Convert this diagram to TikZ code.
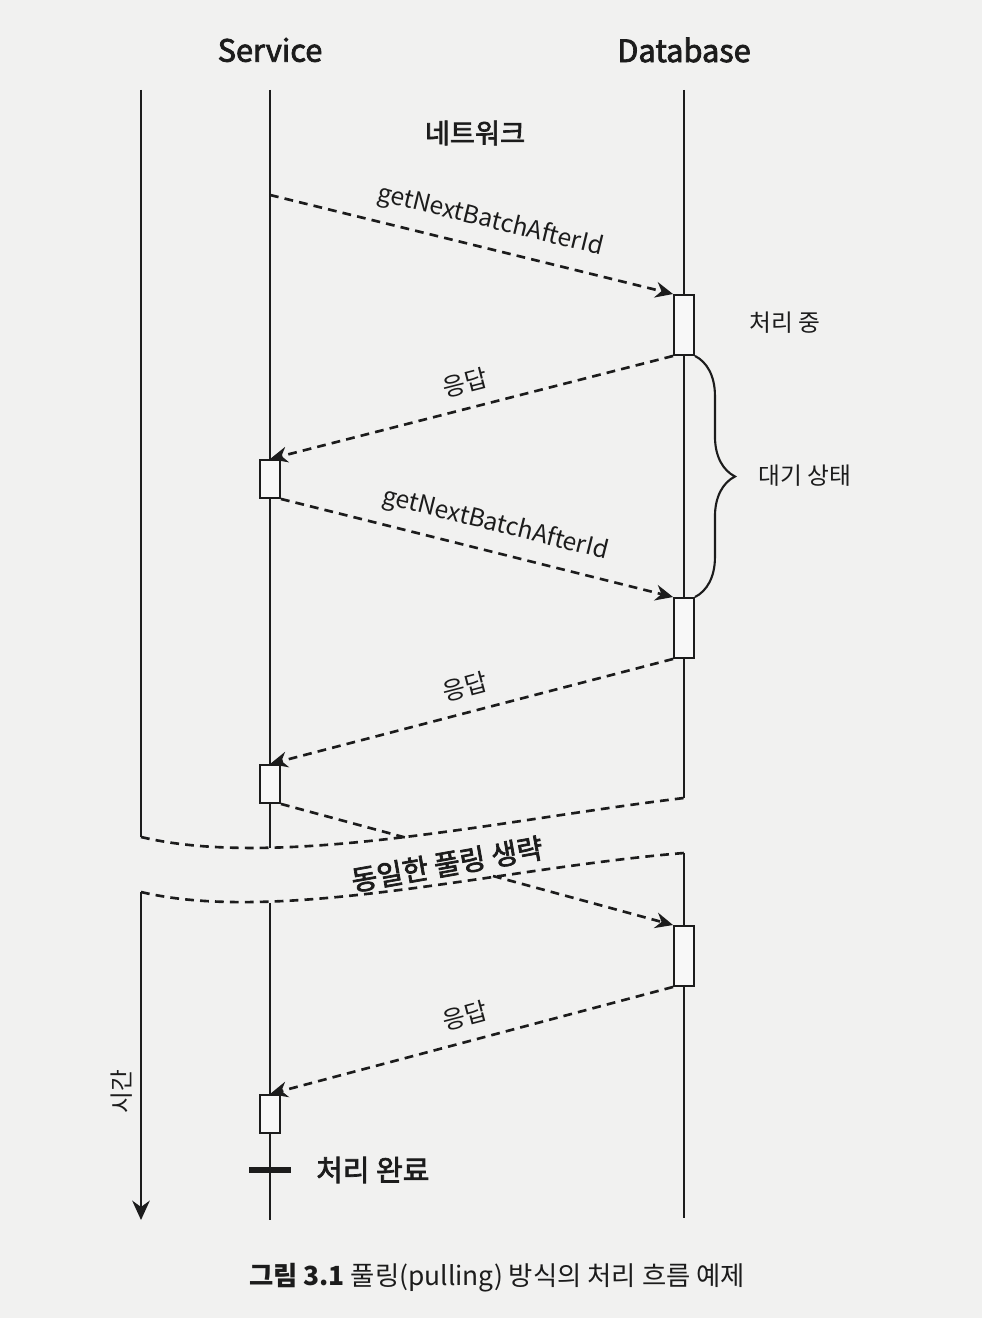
\documentclass[tikz,border=0pt]{standalone}
\usepackage{fontspec}
\setmainfont{Noto Sans CJK KR}
\newfontfamily\medfont[FakeBold=2.5]{Noto Sans CJK KR}
\usetikzlibrary{arrows.meta, calc, decorations.pathreplacing}
\definecolor{paper}{RGB}{241,241,240}
\definecolor{ink}{RGB}{28,28,28}

\begin{document}
\begin{tikzpicture}[
  >=Stealth,
  every node/.style={font=\fontsize{13.5}{16}\selectfont, text=ink},
  %% ── Lifeline and activation styles ──────────────────────────────────────
  life/.style={draw=ink, line width=1.3pt},
  act/.style={
    draw=ink, fill=white!50!paper, line width=1.1pt,
    minimum width=0.4cm, inner sep=0pt
  },
  %% ── Arrow styles ────────────────────────────────────────────────────────
  brk/.style={draw=ink, line width=1.5pt, dash pattern=on 5pt off 3.5pt},
  arr/.style={brk, -{Stealth[length=10pt, width=9pt]}},
  %% ── Label styles ────────────────────────────────────────────────────────
  head/.style={font=\fontsize{17.5}{20}\medfont},
  ann/.style={font=\fontsize{13.5}{16}\selectfont},
  msg/.style={font=\fontsize{14}{16}\selectfont, sloped, above=4pt},
]

\useasboundingbox (0,0) rectangle (19.64,26.36);
\fill[paper] (0,0) rectangle (19.64,26.36);

%% ═══════════════════════════════════════════════════════════════════════════
%% HEADERS
%% ═══════════════════════════════════════════════════════════════════════════

\node[head] (svc) at (5.40,25.36) {Service};
\node[head] (db)  at (13.68,25.36) {Database};
\node[head, font=\fontsize{15.5}{18}\medfont]
  (net) at (9.50,23.70) {네트워크};

%% ═══════════════════════════════════════════════════════════════════════════
%% LIFELINES (broken by the skipped part)
%% ═══════════════════════════════════════════════════════════════════════════

\coordinate (tTop0) at (2.82,24.56);
\coordinate (tTop)  at (2.82,9.62);
\coordinate (tBot)  at (2.82,8.52);
\coordinate (tEnd)  at (2.82,1.96);

\coordinate (sTop0) at (5.40,24.56);
\coordinate (sTop)  at (5.40,9.40);
\coordinate (sBot)  at (5.40,8.30);
\coordinate (sEnd)  at (5.40,1.96);

\coordinate (dTop0) at (13.68,24.56);
\coordinate (dTop)  at (13.68,10.40);
\coordinate (dBot)  at (13.68,9.30);
\coordinate (dEnd)  at (13.68,2.00);

\draw[life] (tTop0) -- (tTop);
\draw[life, -{Stealth[length=11pt, width=10pt]}] (tBot) -- (tEnd);
\draw[life] (sTop0) -- (sTop);
\draw[life] (sBot) -- (sEnd);
\draw[life] (dTop0) -- (dTop);
\draw[life] (dBot) -- (dEnd);

\node[ann, rotate=90] (time) at (2.44,4.52) {시간};

%% ═══════════════════════════════════════════════════════════════════════════
%% ACTIVATION BOXES
%% ═══════════════════════════════════════════════════════════════════════════

\node[act, minimum height=1.2cm]  (d1) at (13.68,19.86) {};
\node[act, minimum height=0.76cm] (s1) at (5.40,16.78) {};
\node[act, minimum height=1.2cm]  (d2) at (13.68,13.80) {};
\node[act, minimum height=0.76cm] (s2) at (5.40,10.68) {};
\node[act, minimum height=1.2cm]  (d3) at (13.68,7.24) {};
\node[act, minimum height=0.76cm] (s3) at (5.40,4.08) {};

\node[ann] (proc) at (15.70,19.90) {처리 중};

%% — waiting brace ───────────────────────────────────────────────────────────
\draw[ink, line width=1.2pt, decorate, decoration={brace, amplitude=0.8cm}]
  (d1.south east) -- (d2.north east);
\node[ann, anchor=west] (wait) at (15.04,16.84) {대기 상태};

%% ═══════════════════════════════════════════════════════════════════════════
%% MESSAGES
%% ═══════════════════════════════════════════════════════════════════════════

\coordinate (s0) at (5.40,22.46);

\draw[arr] (s0) --
  node[msg, pos=0.53] {getNextBatchAfterId}
  (d1.north west);

\draw[arr] (d1.south west) --
  node[msg] {응답}
  (s1.north);

\draw[arr] (s1.south east) --
  node[msg, pos=0.53] {getNextBatchAfterId}
  (d2.north west);

\draw[arr] (d2.south west) --
  node[msg] {응답}
  (s2.north);

%% — message through the skipped part ───────────────────────────────────────
\coordinate (gapA) at (8.14,9.60);
\coordinate (gapB) at (9.86,8.84);
\draw[brk] (s2.south east) -- (gapA);
\draw[arr] (gapB) -- (d3.north west);

\draw[arr] (d3.south west) --
  node[msg] {응답}
  (s3.north);

%% ═══════════════════════════════════════════════════════════════════════════
%% SKIPPED PART
%% ═══════════════════════════════════════════════════════════════════════════

\draw[brk] (tTop) .. controls (5.60,8.96) and (10.00,9.96) .. (dTop);
\draw[brk] (tBot) .. controls (5.60,7.86) and (10.00,9.00) .. (dBot);

\node[font=\fontsize{16}{18}\medfont, rotate=10]
  (skip) at (8.94,9.08) {동일한 풀링 생략};

%% ═══════════════════════════════════════════════════════════════════════════
%% END MARK AND CAPTION
%% ═══════════════════════════════════════════════════════════════════════════

\coordinate (done) at (5.40,2.96);
\draw[ink, line width=3.4pt] ([xshift=-0.42cm]done) -- ([xshift=0.42cm]done);
\node[font=\fontsize{16.5}{19}\medfont, anchor=west]
  (doneLbl) at (6.20,2.96) {처리 완료};

\node[font=\fontsize{15}{18}\selectfont]
  (cap) at (9.94,0.80)
  {\textbf{그림 3.1} 풀링(pulling) 방식의 처리 흐름 예제};

\end{tikzpicture}
\end{document}
